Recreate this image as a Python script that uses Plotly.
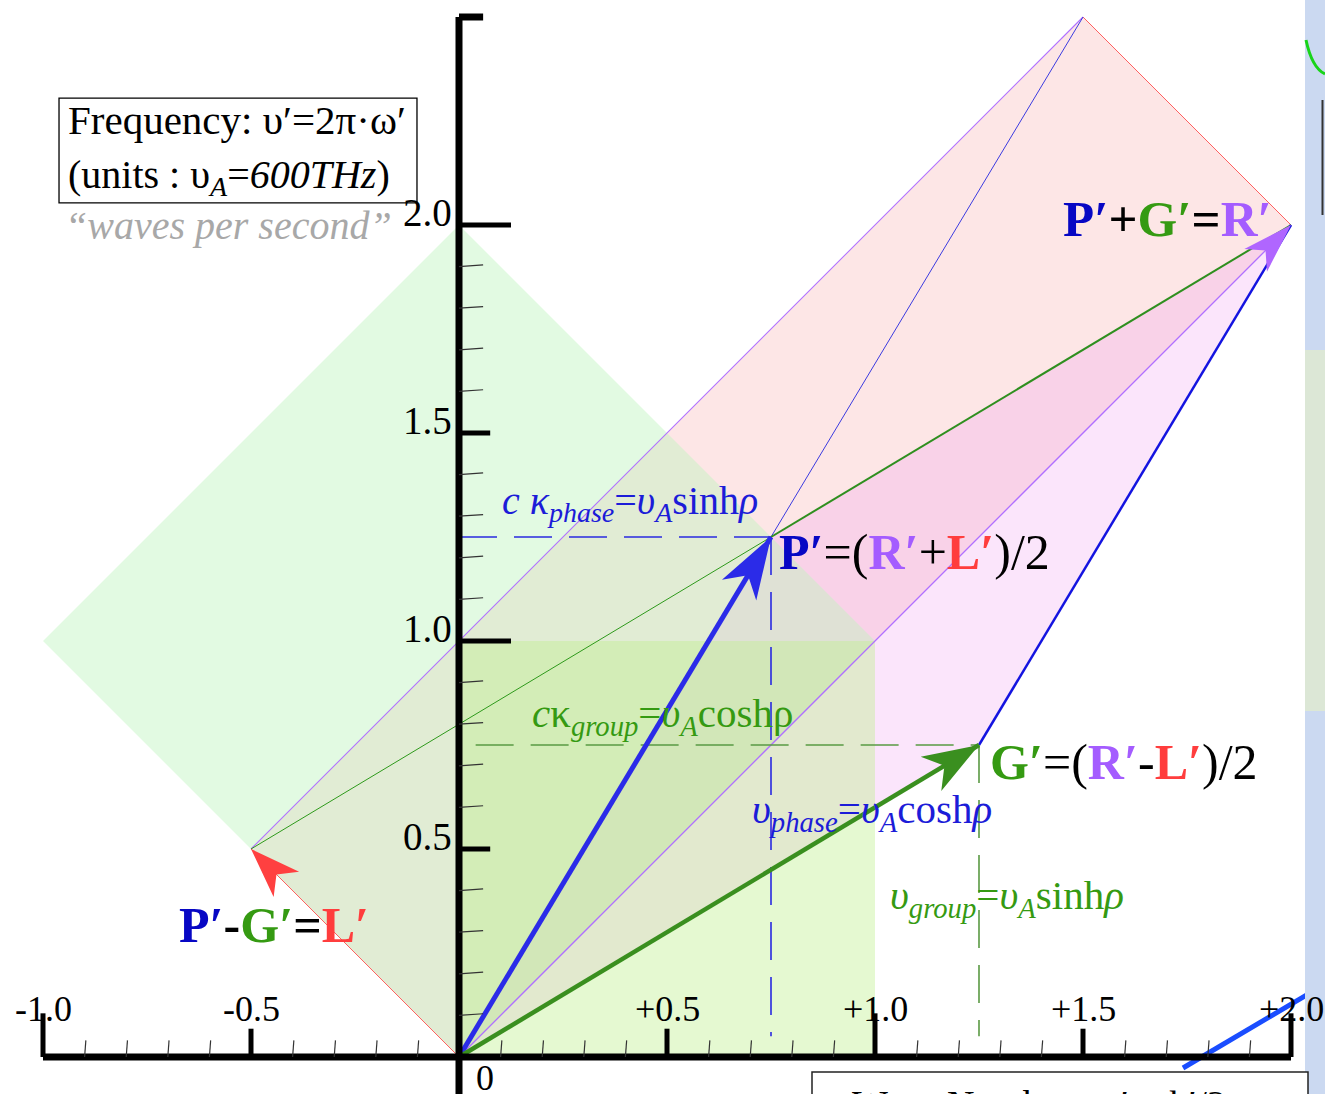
import numpy as np
import plotly.graph_objects as go

# Light-cone vectors, in units of υ_A
O = (0.0, 0.0)
R = (2.0, 2.0)     # R′
L = (-0.5, 0.5)    # L′
P = (0.75, 1.25)   # P′ = (R′+L′)/2
G = (1.25, 0.75)   # G′ = (R′-L′)/2

# light-cone diamond and unit square
diamond = [(0.0, 0.0), (-1.0, 1.0), (0.0, 2.0), (1.0, 1.0)]
unit_square = [(0.0, 0.0), (1.0, 0.0), (1.0, 1.0), (0.0, 1.0)]

# axis ticks
x_major = [-1.0, -0.5, 0.5, 1.0, 1.5, 2.0]
x_labels = ["-1.0", "-0.5", "+0.5", "+1.0", "+1.5", "+2.0"]
y_major = [0.5, 1.0, 1.5, 2.0]
y_labels = ["0.5", "1.0", "1.5", "2.0"]
x_minor = [k / 10 for k in range(-9, 20) if k % 5 != 0]
y_minor = [k / 10 for k in range(1, 20) if k % 5 != 0]

W_PX, H_PX = 1325, 1094
PX = 416.0                      # pixels per unit on both axes
X0_PX, Y0_PX = 459.0, 1057.0    # pixel position of the origin
x_range = [-X0_PX / PX, (W_PX - X0_PX) / PX]
y_range = [-(H_PX - Y0_PX) / PX, Y0_PX / PX]

SERIF = "Liberation Serif"
BLUE = "#1c1cd8"
BLUE_B = "#0707c4"
GREEN = "#359a12"
PURPLE = "#a45cff"
RED = "#ff3d3d"


def add(a, b):
    return (a[0] + b[0], a[1] + b[1])


fig = go.Figure()


def poly(pts, color):
    xs = [p[0] for p in pts] + [pts[0][0]]
    ys = [p[1] for p in pts] + [pts[0][1]]
    fig.add_trace(go.Scatter(x=xs, y=ys, mode="lines", fill="toself",
                             fillcolor=color, line=dict(width=0),
                             hoverinfo="skip"))


def seg(a, b, color, width, dash=None):
    fig.add_trace(go.Scatter(x=[a[0], b[0]], y=[a[1], b[1]], mode="lines",
                             line=dict(color=color, width=width, dash=dash),
                             hoverinfo="skip"))


def head(tip, tail, length_px, width_px, color, notch=0.72):
    t = np.array(tip)
    d = t - np.array(tail)
    u = d / np.linalg.norm(d)
    n = np.array([-u[1], u[0]])
    ln, hw = length_px / PX, width_px / PX / 2
    pts = [t, t - ln * u + hw * n, t - notch * ln * u, t - ln * u - hw * n]
    poly([tuple(p) for p in pts], color)


# shaded regions
poly([O, L, add(L, R), R], "rgba(245,150,150,0.24)")
poly([O, P, add(P, G), G], "rgba(240,150,240,0.25)")
poly(diamond, "rgba(190,245,190,0.45)")
poly(unit_square, "rgba(190,240,140,0.40)")

# thin construction lines
seg(O, L, "#ff6060", 1)
seg(R, add(L, R), "#ff6060", 1)
seg(L, add(L, R), "#b070ff", 1.1)
seg(O, R, "#b070ff", 1.3)
seg(P, add(P, P), "#3c3ce0", 1)
seg(L, P, "#2f9a1c", 1)
seg(P, R, "#2f8f1f", 2)
seg(G, R, "#1414e0", 2.5)

# projections of P′ and G′ onto the axes
dash = "38px,17px"
seg((0.0, P[1]), P, "#2a2ae0", 1.6, dash)
seg(P, (P[0], 0.05), "#2a2ae0", 1.6, dash)
seg((0.04, G[1]), G, "#5a9a44", 1.6, dash)
seg(G, (G[0], 0.05), "#5a9a44", 1.6, dash)

# vectors
seg(O, P, "#2b2be8", 5)
seg(O, G, "#3a8f1f", 4.5)
head(P, O, 62, 40, "#2b2be8")
head(G, O, 56, 40, "#3a8f1f")
head(R, O, 50, 32, "#b066ff")
head(L, O, 50, 36, "#ff4040")

shapes = []


def ln(x0, y0, x1, y1, w, color="black"):
    shapes.append(dict(type="line", xref="x", yref="y", x0=x0, y0=y0,
                       x1=x1, y1=y1, line=dict(color=color, width=w)))


# axes
ln(0, y_range[0], 0, 2.5, 7)
ln(0, 2.5, 0.058, 2.5, 7)
ln(-1.0, 0, 2.0, 0, 7)
for v in y_major:
    ln(0, v, 0.125 if v == int(v) else 0.075, v, 5)
for v in y_minor:
    ln(0, v, 0.058, v + 0.004, 1.2, "#333333")
for v in x_major:
    ln(v, 0, v, 0.105 if v == int(v) else 0.068, 5)
for v in x_minor:
    ln(v, 0, v + 0.003, 0.04, 1.2, "#333333")

# frame around the frequency caption
shapes.append(dict(type="rect", xref="x", yref="y", x0=-0.9615, y0=2.053,
                   x1=-0.101, y1=2.305, line=dict(color="black", width=1.3)))

# neighbouring panel at the right edge
shapes.append(dict(type="rect", xref="paper", yref="paper", x0=1305 / W_PX,
                   x1=1.0, y0=0.0, y1=1.0, line=dict(width=0),
                   fillcolor="#cbd9f1"))
shapes.append(dict(type="rect", xref="paper", yref="paper", x0=1305 / W_PX,
                   x1=1.0, y0=0.35, y1=0.68, line=dict(width=0),
                   fillcolor="#dce7d6"))
shapes.append(dict(type="path", xref="paper", yref="paper",
                   path="M %f %f Q %f %f %f %f" % (1306 / W_PX, 1 - 40 / H_PX,
                                                 1312 / W_PX, 1 - 68 / H_PX,
                                                 1325 / W_PX, 1 - 74 / H_PX),
                   line=dict(color="#19d419", width=3)))
shapes.append(dict(type="line", xref="paper", yref="paper", x0=1322.5 / W_PX,
                   x1=1322.5 / W_PX, y0=1 - 100 / H_PX, y1=1 - 215 / H_PX,
                   line=dict(color="#333333", width=2)))
# frame of the wave-number caption below the axis
shapes.append(dict(type="rect", xref="x", yref="y", x0=(812 - X0_PX) / PX,
                   x1=(1308 - X0_PX) / PX, y0=-0.2, y1=(Y0_PX - 1072) / PX,
                   line=dict(color="#222222", width=1.5), fillcolor="white"))
seg(((1183 - X0_PX) / PX, (Y0_PX - 1068) / PX), (2.2, 0.245), "#1a4dff", 5)

ann = []


def txt(x, y, s, size, color="black", xanchor="left", yanchor="middle",
        yshift=0):
    ann.append(dict(x=x, y=y, xref="x", yref="y", text=s, showarrow=False,
                    xanchor=xanchor, yanchor=yanchor, yshift=yshift,
                    font=dict(family=SERIF, size=size, color=color)))


# tick labels
for v, s in zip(x_major, x_labels):
    txt(v, 0.115, s, 36, xanchor="center")
for v, s in zip(y_major, y_labels):
    txt(-0.012, v + 0.03, s, 39, xanchor="right")
txt(0.035, -0.05, "0", 36)

# captions
txt(-0.945, 2.252, "Frequency: υ′=2π·ω′", 41)
txt(-0.945, 2.115, "(units : υ<sub><i>A</i></sub>=<i>600THz</i>)", 40)
txt(-0.952, 2.0, "<i>“waves per second”</i>", 40, color="#a8a8a8")
txt(0.94, -0.085, "Wave Number:  κ′ = k′/2", 38, yshift=-12)


def span(s, c):
    return '<span style="color:%s">%s</span>' % (c, s)


txt(0.099, 1.332, "<i>c κ</i><sub><i>phase</i></sub>=<i>υ</i><sub><i>A</i></sub>sinh<i>ρ</i>", 40, BLUE)
txt(0.171, 0.82, "<i>c</i>κ<sub><i>group</i></sub>=<i>υ</i><sub><i>A</i></sub>coshρ", 41, GREEN)
txt(0.700, 0.589, "<i>υ</i><sub><i>phase</i></sub>=<i>υ</i><sub><i>A</i></sub>cosh<i>ρ</i>", 41, BLUE)
txt(1.031, 0.382, "<i>υ</i><sub><i>group</i></sub>=<i>υ</i><sub><i>A</i></sub>sinh<i>ρ</i>", 41, GREEN)

txt(0.764, 1.214, span("<b>P′</b>", BLUE_B) + "=(" + span("<b>R′</b>", PURPLE)
    + "+" + span("<b>L′</b>", RED) + ")/2", 50)
txt(1.272, 0.709, span("<b>G′</b>", GREEN) + "=(" + span("<b>R′</b>", PURPLE)
    + "-" + span("<b>L′</b>", RED) + ")/2", 50)
txt(1.447, 2.014, span("<b>P′</b>", BLUE_B) + "<b>+</b>" + span("<b>G′</b>", GREEN)
    + "<b>=</b>" + span("<b>R′</b>", PURPLE), 51)
txt(-0.677, 0.317, span("<b>P′</b>", BLUE_B) + "<b>-</b>" + span("<b>G′</b>", GREEN)
    + "<b>=</b>" + span("<b>L′</b>", RED), 50)

fig.update_layout(
    width=W_PX, height=H_PX, autosize=False,
    margin=dict(l=0, r=0, t=0, b=0, pad=0),
    paper_bgcolor="white", plot_bgcolor="white",
    showlegend=False,
    xaxis=dict(range=x_range, visible=False, fixedrange=True),
    yaxis=dict(range=y_range, visible=False, fixedrange=True),
    shapes=shapes, annotations=ann,
)

fig.write_html("out.html", config={"displayModeBar": False})
